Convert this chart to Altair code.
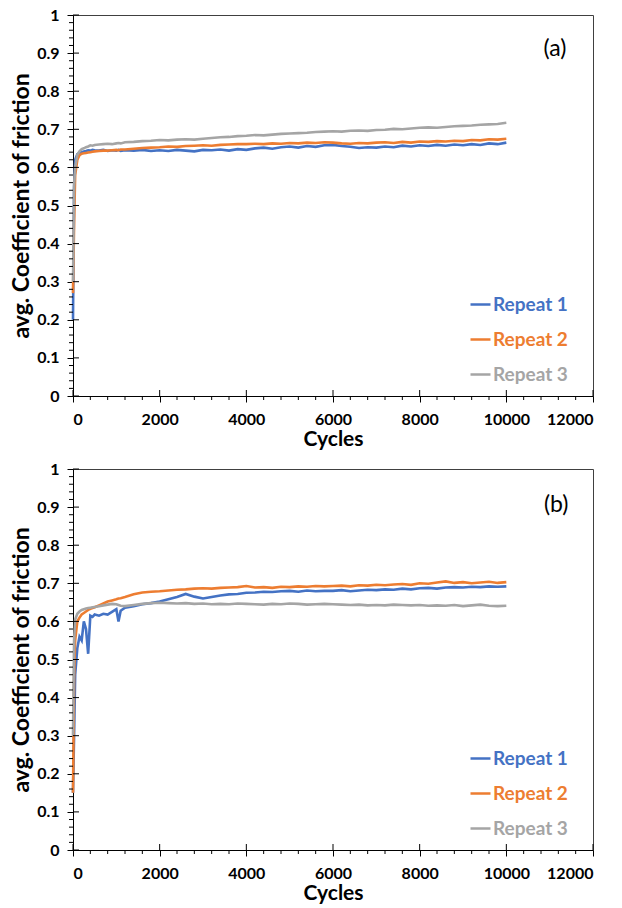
import altair as alt
import pandas as pd

# ---------------- data ----------------
series = ["Repeat 1", "Repeat 2", "Repeat 3"]
colors = ["#4472C4", "#ED7D31", "#A5A5A5"]

cycles = [0, 25, 50, 100, 150, 200, 250, 300, 350, 400, 450, 500, 600, 700, 800, 900,
          1000, 1050, 1100, 1200, 1400, 1600, 1800,
          2000, 2200, 2400, 2600, 2800, 3000, 3200, 3400, 3600, 3800, 4000,
          4200, 4400, 4600, 4800, 5000, 5200, 5400, 5600, 5800, 6000,
          6200, 6400, 6600, 6800, 7000, 7200, 7400, 7600, 7800, 8000,
          8200, 8400, 8600, 8800, 9000, 9200, 9400, 9600, 9800, 10000]

# panel (a)
a_r1 = [0.20, 0.55, 0.62, 0.635, 0.638, 0.640, 0.642, 0.643, 0.645, 0.644, 0.646, 0.645,
        0.644, 0.646, 0.643, 0.645, 0.644, 0.646, 0.643, 0.645, 0.644, 0.646, 0.643,
        0.645, 0.643, 0.646, 0.644, 0.642, 0.646, 0.645, 0.647, 0.644, 0.648, 0.646,
        0.650, 0.652, 0.649, 0.653, 0.655, 0.652, 0.656, 0.654, 0.658, 0.659,
        0.656, 0.654, 0.651, 0.653, 0.652, 0.655, 0.653, 0.657, 0.655, 0.658,
        0.656, 0.659, 0.657, 0.660, 0.658, 0.661, 0.659, 0.663, 0.661, 0.665]
a_r2 = [0.27, 0.45, 0.58, 0.62, 0.632, 0.636, 0.637, 0.638, 0.639, 0.640, 0.641, 0.642,
        0.643, 0.644, 0.644, 0.645, 0.646, 0.645, 0.647, 0.647, 0.649, 0.651, 0.652,
        0.653, 0.655, 0.654, 0.656, 0.657, 0.658, 0.657, 0.659, 0.660, 0.661, 0.661,
        0.662, 0.661, 0.663, 0.662, 0.664, 0.663, 0.665, 0.664, 0.666, 0.665,
        0.663, 0.662, 0.664, 0.663, 0.665, 0.666, 0.664, 0.667, 0.665, 0.668,
        0.667, 0.669, 0.668, 0.670, 0.669, 0.672, 0.671, 0.674, 0.673, 0.675]
a_r3 = [0.30, 0.55, 0.60, 0.633, 0.642, 0.648, 0.650, 0.653, 0.655, 0.658, 0.657, 0.659,
        0.660, 0.661, 0.662, 0.661, 0.663, 0.664, 0.663, 0.666, 0.667, 0.669, 0.670,
        0.672, 0.671, 0.673, 0.674, 0.673, 0.675, 0.677, 0.679, 0.680, 0.682, 0.683,
        0.685, 0.684, 0.686, 0.688, 0.689, 0.690, 0.691, 0.693, 0.694, 0.695,
        0.694, 0.696, 0.697, 0.696, 0.698, 0.699, 0.701, 0.700, 0.702, 0.704,
        0.705, 0.704, 0.706, 0.708, 0.709, 0.710, 0.712, 0.713, 0.714, 0.717]

# panel (b)
b_r1 = [0.15, 0.30, 0.46, 0.53, 0.56, 0.55, 0.60, 0.58, 0.515, 0.615, 0.612, 0.618,
        0.615, 0.620, 0.618, 0.625, 0.632, 0.600, 0.628, 0.636, 0.640, 0.645, 0.648,
        0.652, 0.658, 0.664, 0.672, 0.665, 0.660, 0.664, 0.668, 0.671, 0.672, 0.675,
        0.676, 0.678, 0.677, 0.679, 0.680, 0.678, 0.681, 0.679, 0.680, 0.680,
        0.682, 0.679, 0.681, 0.683, 0.682, 0.684, 0.683, 0.686, 0.684, 0.687,
        0.688, 0.686, 0.689, 0.690, 0.689, 0.691, 0.690, 0.692, 0.691, 0.692]
b_r2 = [0.15, 0.45, 0.55, 0.60, 0.61, 0.618, 0.622, 0.626, 0.630, 0.633, 0.635, 0.637,
        0.642, 0.647, 0.652, 0.655, 0.658, 0.660, 0.661, 0.664, 0.671, 0.676, 0.678,
        0.679, 0.681, 0.683, 0.684, 0.686, 0.687, 0.686, 0.688, 0.689, 0.690, 0.693,
        0.689, 0.690, 0.688, 0.691, 0.690, 0.692, 0.691, 0.693, 0.692, 0.693,
        0.694, 0.692, 0.695, 0.694, 0.696, 0.695, 0.697, 0.698, 0.696, 0.700,
        0.699, 0.702, 0.705, 0.701, 0.703, 0.700, 0.702, 0.704, 0.701, 0.703]
b_r3 = [0.30, 0.55, 0.605, 0.62, 0.626, 0.630, 0.632, 0.634, 0.635, 0.636, 0.637, 0.638,
        0.640, 0.642, 0.644, 0.646, 0.645, 0.643, 0.641, 0.640, 0.643, 0.646, 0.648,
        0.649, 0.648, 0.647, 0.648, 0.646, 0.647, 0.645, 0.646, 0.645, 0.647, 0.646,
        0.645, 0.644, 0.646, 0.645, 0.647, 0.646, 0.644, 0.645, 0.646, 0.645,
        0.644, 0.643, 0.644, 0.642, 0.643, 0.642, 0.644, 0.643, 0.642, 0.643,
        0.641, 0.642, 0.641, 0.643, 0.640, 0.642, 0.644, 0.641, 0.640, 0.641]

x_major = [0, 2000, 4000, 6000, 8000, 10000, 12000]
x_minor = [400, 800, 1200, 1600, 2400, 2800, 3200, 3600, 4400, 4800, 5200, 5600,
           6400, 6800, 7200, 7600, 8400, 8800, 9200, 9600, 10400, 10800, 11200, 11600]
y_major = [0, 0.1, 0.2, 0.3, 0.4, 0.5, 0.6, 0.7, 0.8, 0.9, 1]
y_minor = [0.02, 0.04, 0.06, 0.08, 0.12, 0.14, 0.16, 0.18, 0.22, 0.24, 0.26, 0.28,
           0.32, 0.34, 0.36, 0.38, 0.42, 0.44, 0.46, 0.48, 0.52, 0.54, 0.56, 0.58,
           0.62, 0.64, 0.66, 0.68, 0.72, 0.74, 0.76, 0.78, 0.82, 0.84, 0.86, 0.88,
           0.92, 0.94, 0.96, 0.98]

panel_labels = ["(a)", "(b)"]
label_pos_cycles = [11120, 11150]
label_pos_cof = [0.91, 0.905]

W, H = 520, 381
FONT = "Lato"

X_AXIS = alt.Axis(values=x_major, format="d", title="Cycles", titleFontSize=21,
                  labelPadding=9, titlePadding=1, tickSize=6)
Y_AXIS = alt.Axis(values=y_major, format="~g", title="avg. Coefficient of friction",
                  titleFontSize=23, labelPadding=8, titlePadding=3, tickSize=6)


def panel(r1, r2, r3, idx):
    rows = []
    for name, vals in zip(series, [r1, r2, r3]):
        for c, v in zip(cycles, vals):
            rows.append({"cycles": c, "cof": v, "series": name})
    df = pd.DataFrame(rows)

    xs = alt.Scale(domain=[0, 12000], nice=False, zero=False)
    ys = alt.Scale(domain=[0, 1], nice=False)

    def X(): return alt.X("cycles:Q", scale=xs, axis=X_AXIS)
    def Y(): return alt.Y("cof:Q", scale=ys, axis=Y_AXIS)

    lines = alt.Chart(df).mark_line(strokeWidth=2.6).encode(
        x=X(), y=Y(),
        color=alt.Color("series:N",
                        scale=alt.Scale(domain=series, range=colors),
                        legend=alt.Legend(
                            orient="none", legendX=396, legendY=278, title=None,
                            symbolType="stroke", symbolSize=400, symbolStrokeWidth=2.5,
                            labelFont=FONT, labelFontSize=19, labelFontWeight="bold",
                            labelColor=alt.ExprRef(
                                "datum.value == 'Repeat 1' ? '#4472C4' : "
                                "(datum.value == 'Repeat 2' ? '#ED7D31' : '#A5A5A5')"),
                            rowPadding=13, labelOffset=1, padding=0)),
    )

    y_min_ticks = alt.Chart(pd.DataFrame({"cof": y_minor})).mark_rule(
        color="black", strokeWidth=1).encode(y=Y(), x=alt.value(-4), x2=alt.value(0))
    y_in_ticks = alt.Chart(pd.DataFrame({"cof": y_major})).mark_rule(
        color="black", strokeWidth=1).encode(y=Y(), x=alt.value(0), x2=alt.value(6))
    x_min_ticks = alt.Chart(pd.DataFrame({"cycles": x_minor})).mark_rule(
        color="black", strokeWidth=1).encode(x=X(), y=alt.value(H), y2=alt.value(H + 4))
    x_in_ticks = alt.Chart(pd.DataFrame({"cycles": x_major})).mark_rule(
        color="black", strokeWidth=1).encode(x=X(), y=alt.value(H - 6), y2=alt.value(H))

    lab = alt.Chart(pd.DataFrame({"cycles": [label_pos_cycles[idx]],
                                  "cof": [label_pos_cof[idx]],
                                  "label": [panel_labels[idx]]})).mark_text(
        font=FONT, fontSize=23, color="black").encode(x=X(), y=Y(), text="label:N")

    return alt.layer(lines, y_min_ticks, y_in_ticks, x_min_ticks, x_in_ticks, lab,
                     view=alt.ViewBackground(stroke="#404040", strokeWidth=1)).properties(
        width=W, height=H)


chart = alt.vconcat(panel(a_r1, a_r2, a_r3, 0), panel(b_r1, b_r2, b_r3, 1), spacing=10).resolve_scale(
    color="independent").resolve_legend(color="independent").properties(
    padding={"left": 2, "top": -2, "right": 5, "bottom": 2}, background="white"
).configure_view(stroke="#404040", strokeWidth=1).configure_axis(
    grid=False, domainColor="black", tickColor="black", domainWidth=1,
    labelFont=FONT, labelFontWeight="bold", labelFontSize=16, labelColor="black",
    titleFont=FONT, titleFontWeight="bold", titleColor="black",
)

chart.save("out.html", embed_options={"renderer": "svg", "actions": False})
